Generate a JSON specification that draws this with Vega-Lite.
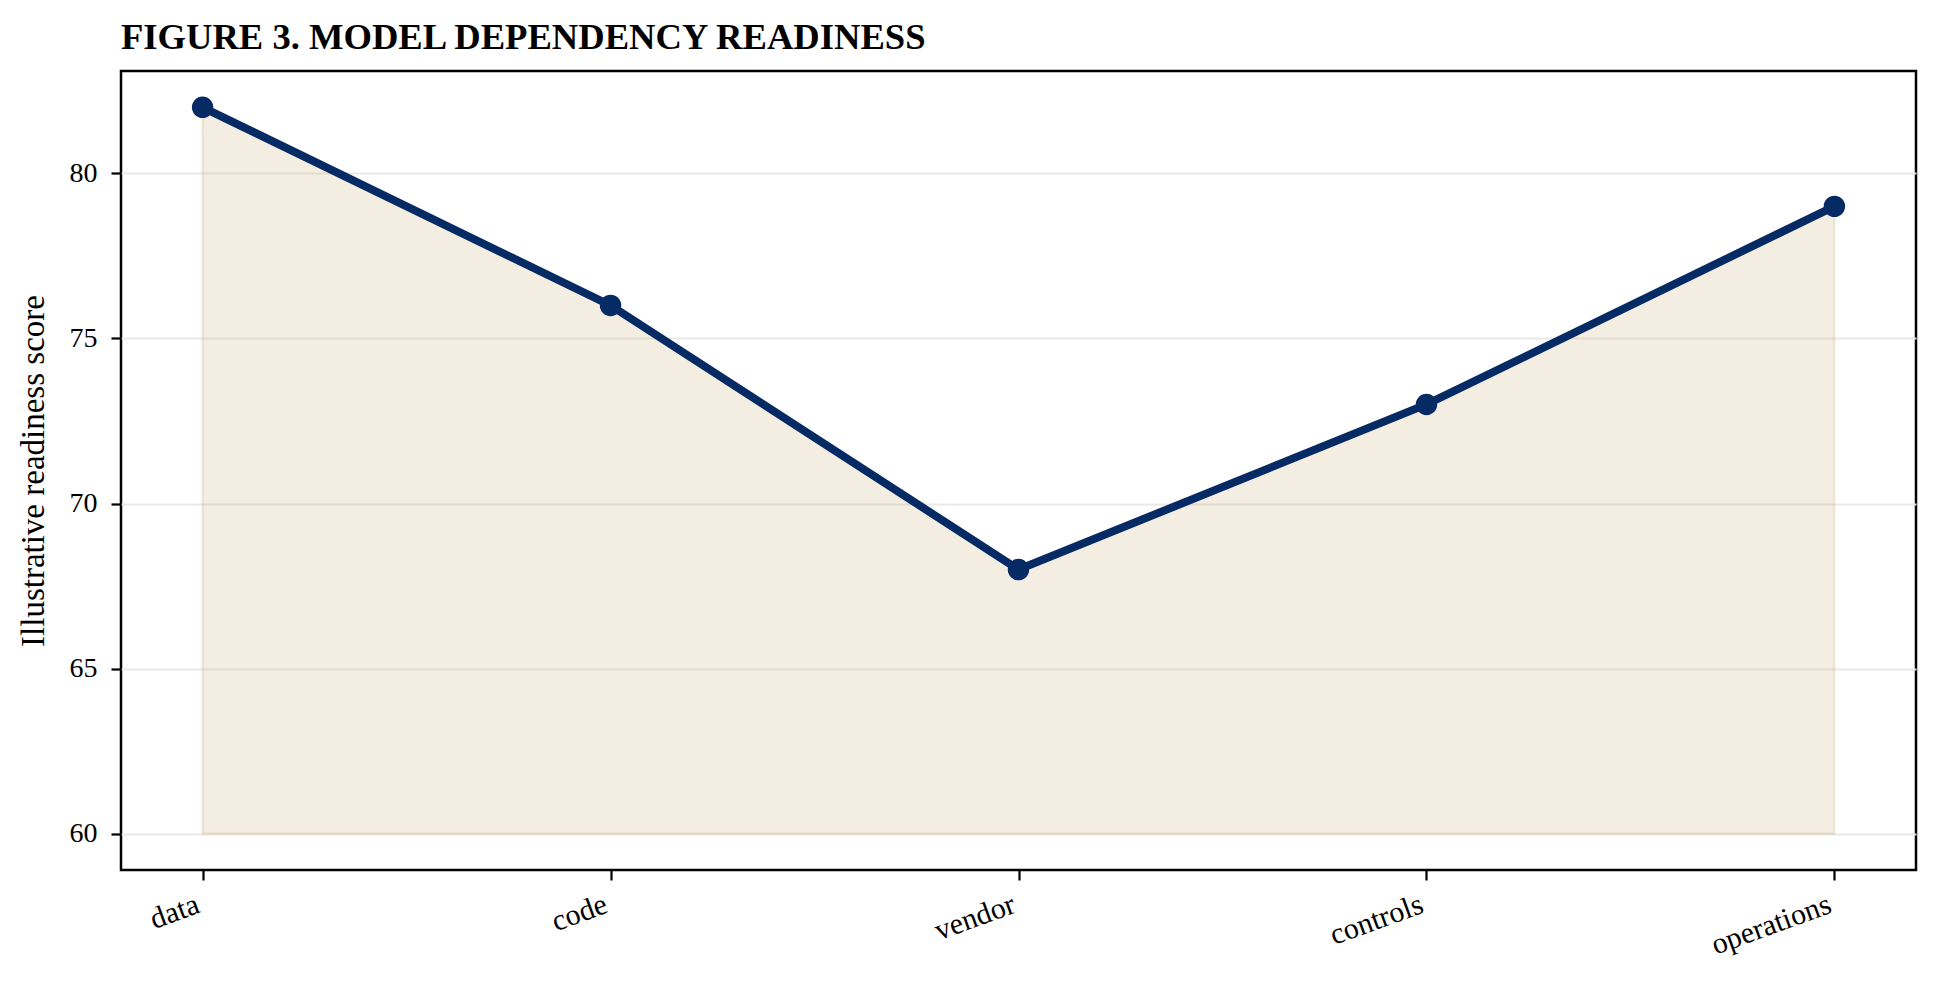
{
  "$schema": "https://vega.github.io/schema/vega-lite/v6.json",
  "width": 1795,
  "height": 799,
  "autosize": {"type": "none"},
  "padding": {"left": 121, "top": 71, "right": 24, "bottom": 113},
  "background": "white",
  "config": {
    "view": {"stroke": "#000000", "strokeWidth": 2.5},
    "font": "Liberation Serif"
  },
  "title": {
    "text": "FIGURE 3. MODEL DEPENDENCY READINESS",
    "anchor": "start",
    "frame": "group",
    "font": "Liberation Serif",
    "fontSize": 36.6,
    "fontWeight": "bold",
    "color": "#000000",
    "offset": 14,
    "dy": 37,
    "baseline": "bottom"
  },
  "data": {
    "values": [
      {"area": "data", "score": 82},
      {"area": "code", "score": 76},
      {"area": "vendor", "score": 68},
      {"area": "controls", "score": 73},
      {"area": "operations", "score": 79}
    ]
  },
  "encoding": {
    "x": {
      "field": "area",
      "type": "nominal",
      "sort": null,
      "scale": {"type": "point", "padding": 0.2},
      "axis": {
        "title": null,
        "domain": false,
        "grid": false,
        "ticks": true,
        "tickSize": 10,
        "tickWidth": 2.2,
        "tickColor": "#000000",
        "labelAngle": -20,
        "labelAlign": "right",
        "labelBaseline": "top",
        "labelPadding": 9,
        "labelOffset": -10,
        "labelFont": "Liberation Serif",
        "labelFontSize": 30,
        "labelColor": "#000000"
      }
    },
    "y": {
      "field": "score",
      "type": "quantitative",
      "scale": {"domain": [58.9, 83.1], "nice": false, "zero": false},
      "axis": {
        "values": [60, 65, 70, 75, 80],
        "title": "Illustrative readiness score",
        "titleFont": "Liberation Serif",
        "titleFontSize": 33,
        "titleFontWeight": "normal",
        "titleColor": "#000000",
        "titlePadding": 18.5,
        "domain": false,
        "grid": true,
        "gridColor": "#e9e9e9",
        "gridWidth": 2,
        "tickSize": 10,
        "tickWidth": 2.2,
        "tickColor": "#000000",
        "labelFont": "Liberation Serif",
        "labelFontSize": 28,
        "labelColor": "#000000",
        "labelPadding": 14
      }
    }
  },
  "layer": [
    {
      "mark": {
        "type": "area",
        "fill": "#c9a66b",
        "fillOpacity": 0.2,
        "stroke": "#c9a66b",
        "strokeOpacity": 0.2,
        "strokeWidth": 2.5
      },
      "encoding": {"y2": {"datum": 60}}
    },
    {
      "mark": {"type": "line", "color": "#062a64", "strokeWidth": 8},
      "encoding": {}
    },
    {
      "mark": {"type": "point", "filled": true, "color": "#062a64", "size": 460, "opacity": 1},
      "encoding": {}
    }
  ]
}
